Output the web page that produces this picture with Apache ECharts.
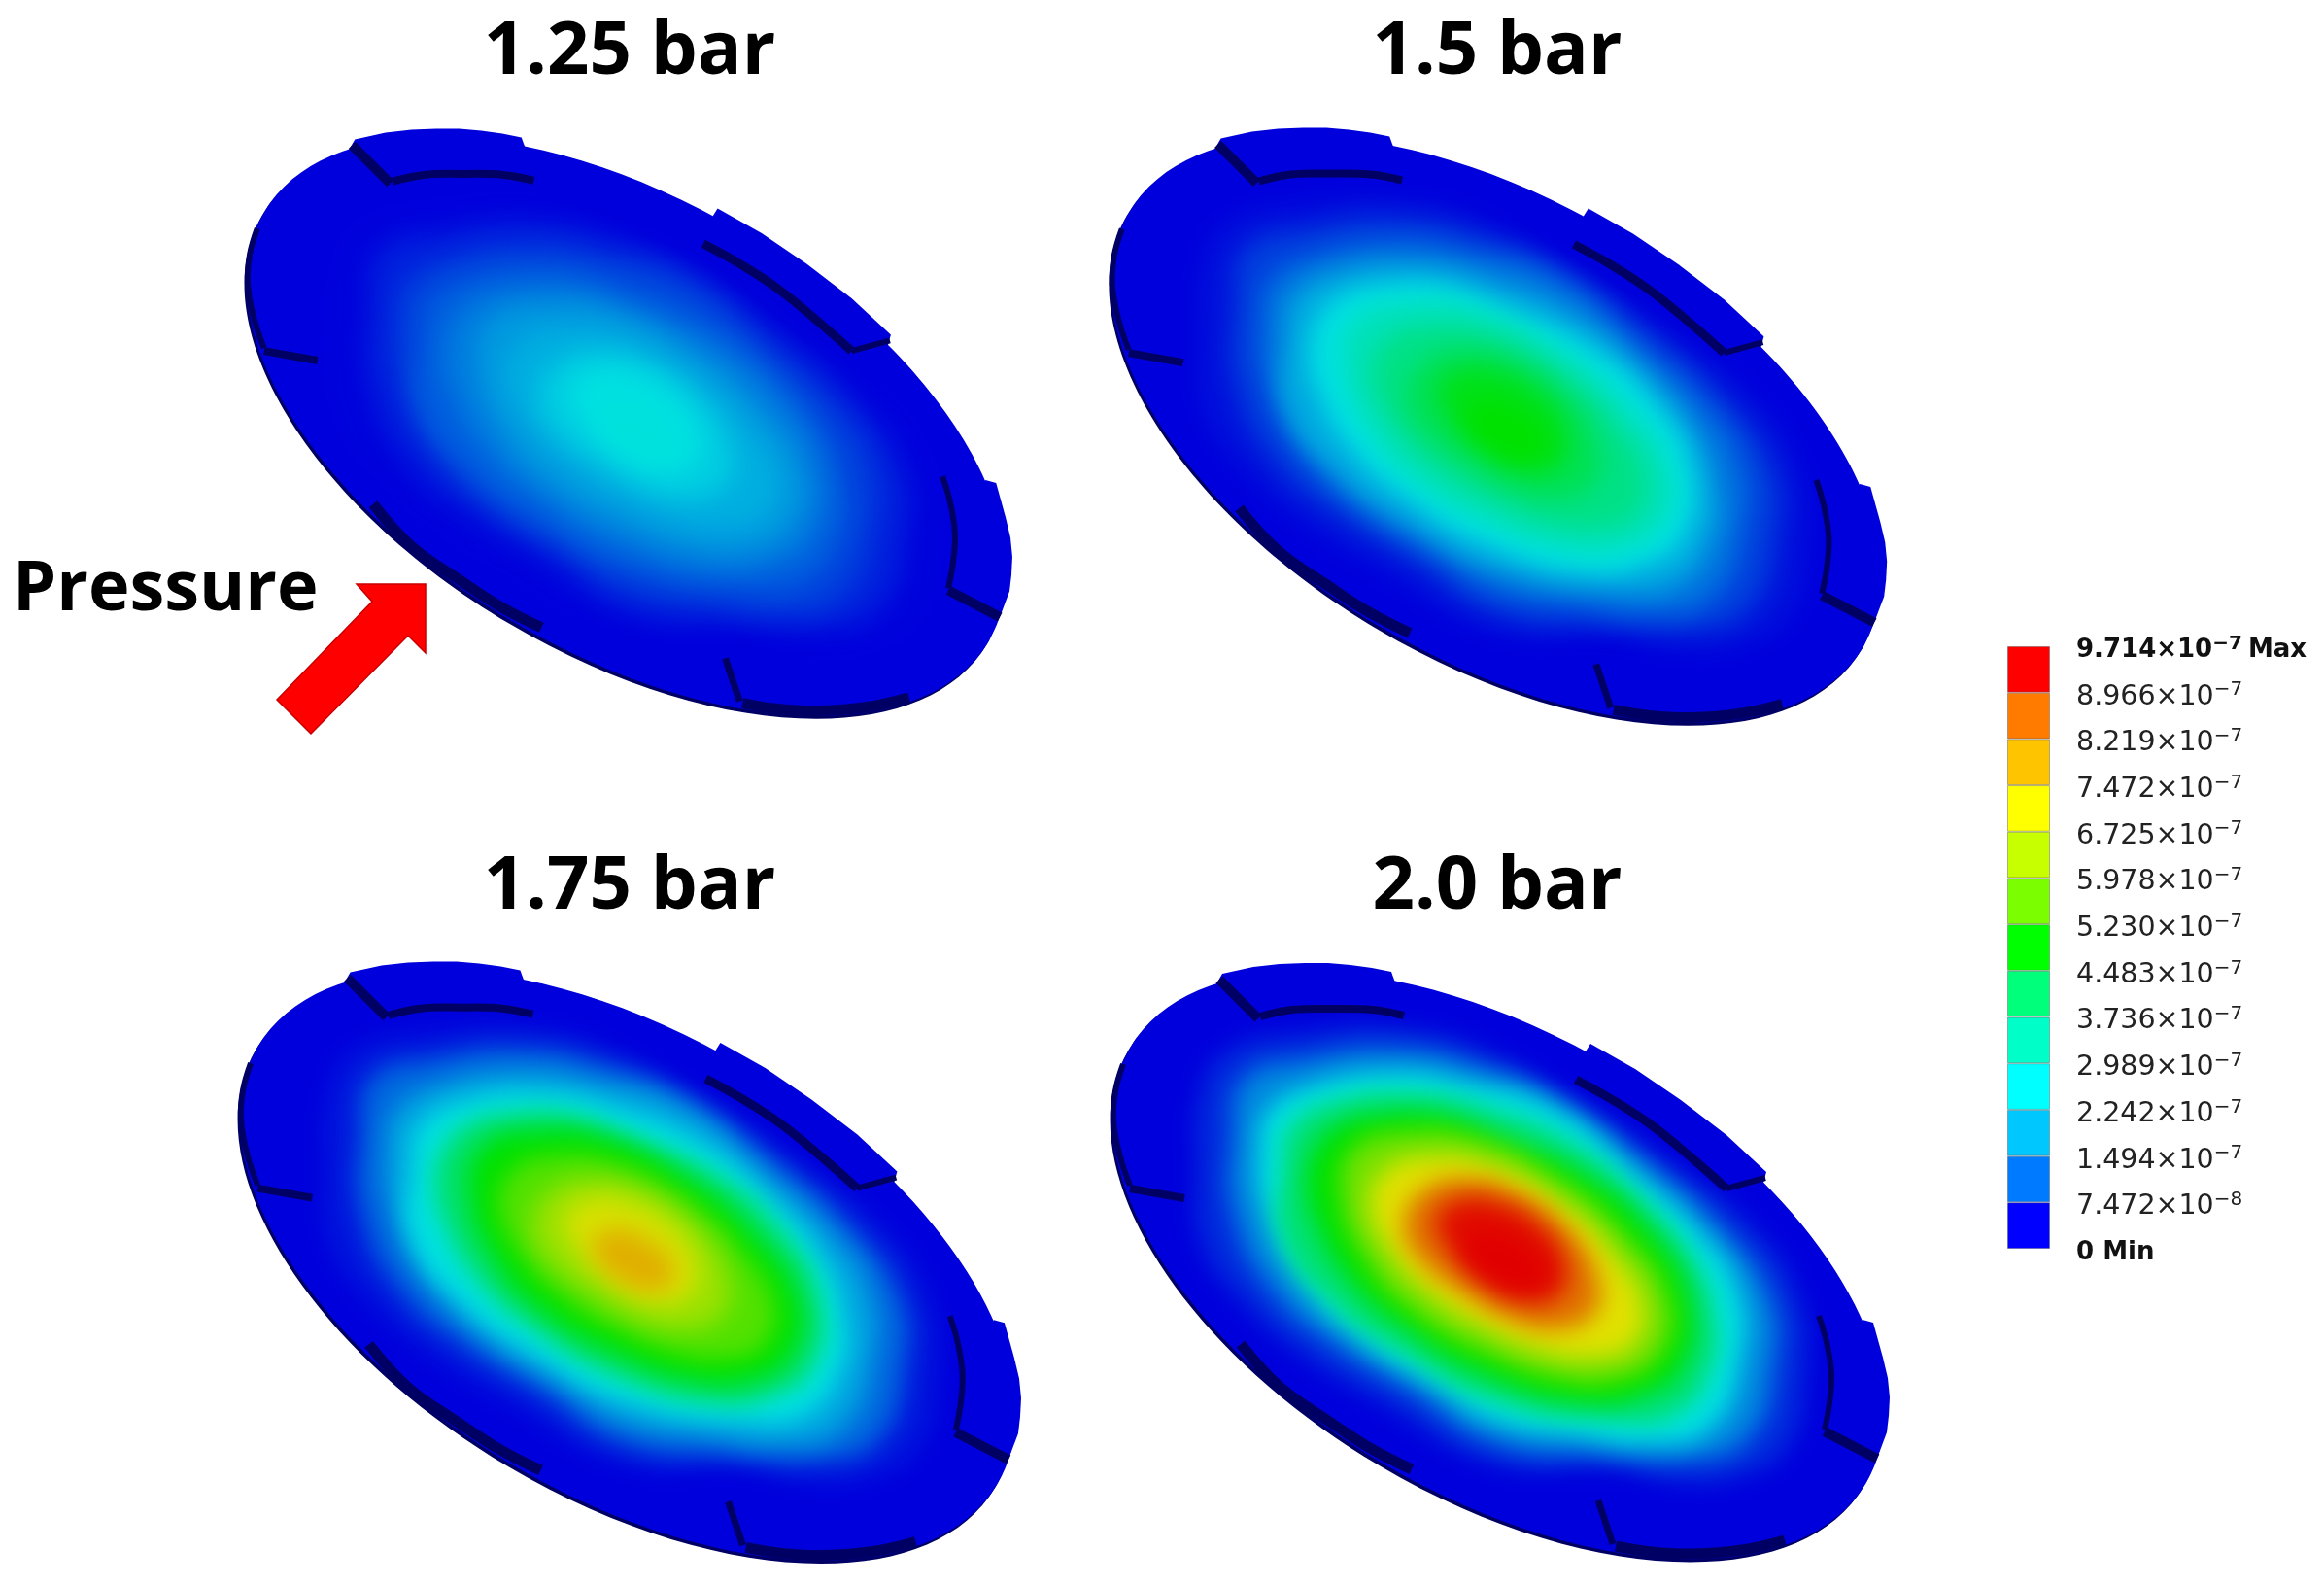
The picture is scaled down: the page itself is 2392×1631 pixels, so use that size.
<!DOCTYPE html>
<html>
<head>
<meta charset="utf-8">
<style>
  html, body { margin: 0; padding: 0; background: #fff; }
  #chart { width: 2392px; height: 1631px; }
</style>
<script src="https://cdn.jsdelivr.net/npm/echarts@6/dist/echarts.min.js"></script>
</head>
<body>
<div id="chart"></div>
<script>
  const panelNames = ['1.25 bar', '1.5 bar', '1.75 bar', '2.0 bar']
  const panelDx = [-897, -2, -896, 0]
  const panelDy = [-863, -860, 0, 0]
  const panelScale = [0.985, 0.998, 1.005, 1]
  const panelTitleX = [648, 1541, 648, 1541]
  const panelTitleY = [11, 11, 870, 870]
  // the low pressure fields sit a little lower right on the disk
  const contourShiftX = [6, 4, 0, 0]
  const contourShiftY = [10, 6, 0, 0]

  // disk rim of the 2.0 bar panel: centre, half axes, tilt in degrees
  // the other panels are moved/scaled from it
  const diskCentre = [1542, 1302]
  const diskHalfAxes = [440, 236]
  const diskTilt = 30.6
  const edgeShift = [-2, 3]
  const pivot = [1544, 1299]

  // raised tabs that stick out of the rim
  const diskTabs = [
    [[1250, 1016], [1258, 1002], [1290, 995], [1317, 992], [1343, 991], [1367, 991], [1390, 993], [1412, 996], [1432, 1000], [1436, 1011], [1400, 1040], [1300, 1040]],
    [[1632, 1082], [1637, 1074], [1683, 1100], [1730, 1132], [1777, 1168], [1818, 1206], [1815, 1217], [1750, 1190], [1650, 1120]],
    [[1917, 1358], [1928, 1361], [1938, 1397], [1943, 1418], [1945, 1438], [1944, 1457], [1942, 1474], [1933, 1498], [1928, 1508], [1900, 1480], [1890, 1400]]
  ]

  const grooves = [
    [[1255, 1008], [1295, 1048]],
    [[1297, 1046], [1330, 1039], [1370, 1038], [1413, 1039], [1445, 1045]],
    [[1622, 1111], [1660, 1132], [1700, 1158], [1743, 1193], [1777, 1223]],
    [[1777, 1223], [1817, 1212]],
    [[1163, 1223], [1219, 1233]],
    [[1277, 1383], [1317, 1427], [1367, 1462], [1410, 1490], [1453, 1512]],
    [[1645, 1544], [1660, 1589]],
    [[1663, 1591], [1700, 1597], [1743, 1599], [1793, 1595], [1837, 1585]],
    [[1872, 1354], [1880, 1381], [1885, 1414], [1883, 1444], [1878, 1471]],
    [[1878, 1473], [1932, 1501]],
    [[1156, 1095], [1148, 1123], [1146, 1153], [1152, 1187], [1163, 1220]]
  ]
  const grooveWidths = [10, 8, 9, 6, 8, 11, 7, 11, 6, 10, 6]

  // contour lines of the 2.0 bar panel, outermost first
  const contourShapes = [
    [[1235, 1130], [1262, 1083], [1335, 1064], [1450, 1060], [1550, 1092], [1615, 1133], [1725, 1205], [1805, 1265], [1852, 1340], [1857, 1417], [1840, 1488], [1790, 1519], [1727, 1524], [1660, 1510], [1540, 1506], [1423, 1443], [1340, 1393], [1280, 1340], [1238, 1280], [1232, 1200]],
    [[1268, 1170], [1280, 1110], [1340, 1090], [1440, 1080], [1530, 1100], [1610, 1135], [1700, 1200], [1770, 1262], [1822, 1335], [1826, 1405], [1800, 1480], [1740, 1502], [1650, 1497], [1540, 1485], [1450, 1430], [1375, 1385], [1310, 1330], [1270, 1250]],
    [[1295, 1180], [1303, 1145], [1340, 1120], [1430, 1103], [1507, 1113], [1600, 1140], [1683, 1207], [1750, 1267], [1790, 1327], [1793, 1398], [1760, 1471], [1693, 1486], [1627, 1478], [1540, 1463], [1473, 1423], [1407, 1383], [1340, 1320], [1300, 1240]],
    [[1320, 1200], [1328, 1160], [1375, 1133], [1455, 1125], [1530, 1140], [1615, 1175], [1690, 1235], [1745, 1300], [1765, 1360], [1762, 1405], [1725, 1455], [1660, 1462], [1540, 1442], [1445, 1393], [1375, 1345], [1320, 1275]],
    [[1345, 1220], [1352, 1185], [1378, 1158], [1420, 1147], [1480, 1147], [1550, 1173], [1633, 1210], [1700, 1267], [1740, 1340], [1730, 1408], [1693, 1434], [1640, 1444], [1540, 1420], [1440, 1363], [1383, 1310], [1353, 1255]],
    [[1380, 1225], [1395, 1180], [1445, 1165], [1515, 1170], [1595, 1207], [1670, 1268], [1718, 1340], [1708, 1395], [1665, 1420], [1610, 1420], [1535, 1395], [1455, 1350], [1405, 1295]],
    [[1410, 1240], [1425, 1205], [1465, 1190], [1530, 1197], [1610, 1240], [1665, 1295], [1692, 1345], [1680, 1385], [1640, 1398], [1595, 1393], [1530, 1367], [1470, 1330], [1430, 1287]],
    [[1445, 1260], [1465, 1225], [1510, 1213], [1560, 1226], [1615, 1265], [1645, 1315], [1640, 1352], [1600, 1368], [1555, 1358], [1500, 1327], [1460, 1295]],
    [[1478, 1255], [1500, 1235], [1540, 1236], [1585, 1260], [1612, 1300], [1605, 1332], [1570, 1340], [1525, 1318], [1490, 1285]],
    [[1508, 1275], [1530, 1265], [1560, 1275], [1588, 1300], [1585, 1322], [1562, 1328], [1530, 1315], [1510, 1295]]
  ]
  // value (x 1e-7) on each contour for each panel
  const contourValues125 = [0.42, 0.7, 1.0, 1.3, 1.6, 1.9, 2.1, 2.4, 2.6, 2.65]
  const contourValues150 = [0.55, 1.0, 1.5, 2.05, 2.6, 3.0, 3.5, 4.0, 4.6, 4.86]
  const contourValues175 = [0.6, 1.4, 2.0, 2.6, 3.8, 4.86, 5.7, 6.4, 7.0, 7.6]
  const contourValues200 = [0.8, 1.7, 2.6, 3.7, 4.86, 6.0, 7.1, 8.2, 9.2, 9.6]
  const contourValues = [contourValues125, contourValues150, contourValues175, contourValues200]

  // colour scale, lit surface colours
  const surfaceValues = [0.37, 2.6, 4.86, 7.1, 9.34]
  const surfaceColors = [[0, 0, 220], [0, 225, 225], [0, 225, 0], [225, 225, 0], [225, 0, 0]]

  const arrowPoints = [[367, 601], [438, 601], [438, 672], [420, 654], [320, 755], [285, 720], [383, 619]]

  // colour bar
  const legendEdges = [0, 0.7472, 1.494, 2.242, 2.989, 3.736, 4.483, 5.23, 5.978, 6.725, 7.472, 8.219, 8.966, 9.714]
  const legendMantissa = ['0', '7.472', '1.494', '2.242', '2.989', '3.736', '4.483', '5.230', '5.978', '6.725', '7.472', '8.219', '8.966', '9.714']
  const legendExponent = ['', '−8', '−7', '−7', '−7', '−7', '−7', '−7', '−7', '−7', '−7', '−7', '−7', '−7']
  const legendColors = ['#0000ff', '#007bff', '#00c8ff', '#00ffff', '#00ffc8', '#00ff7b', '#00ff00', '#7bff00', '#c8ff00', '#ffff00', '#ffc400', '#ff7b00', '#ff0000']

  const OFFSCREEN = 4000
  const BLUR = 24
  const DARK = '#000064'
  const DISK_BLUE = 'rgb(0,0,220)'

  function surfaceColor(v) {
    if (v <= surfaceValues[0]) return DISK_BLUE
    for (var i = 1; i < surfaceValues.length; i++) {
      if (v <= surfaceValues[i]) {
        const t = (v - surfaceValues[i - 1]) / (surfaceValues[i] - surfaceValues[i - 1])
        const a = surfaceColors[i - 1], b = surfaceColors[i]
        return 'rgb(' + Math.round(a[0] + (b[0] - a[0]) * t) + ',' + Math.round(a[1] + (b[1] - a[1]) * t) + ',' + Math.round(a[2] + (b[2] - a[2]) * t) + ')'
      }
    }
    return 'rgb(225,0,0)'
  }

  function placePoint(p, pt, shift) {
    const s = panelScale[p]
    const sx = shift ? shift[0] : 0, sy = shift ? shift[1] : 0
    return [pivot[0] + (pt[0] + sx - pivot[0]) * s + panelDx[p], pivot[1] + (pt[1] + sy - pivot[1]) * s + panelDy[p]]
  }

  function pixels(api, p, pts, shift) {
    return pts.map(function (pt) { return api.coord(placePoint(p, pt, shift)) })
  }

  function diskEllipse(api, p, shift, fill) {
    const c = api.coord(placePoint(p, diskCentre, shift))
    const r = api.size([diskHalfAxes[0] * panelScale[p], diskHalfAxes[1] * panelScale[p]])
    return {
      type: 'ellipse',
      shape: { cx: c[0], cy: c[1], rx: r[0], ry: r[1] },
      originX: c[0],
      originY: c[1],
      rotation: -diskTilt * Math.PI / 180,
      style: { fill: fill }
    }
  }

  const panelIndex = panelNames.map(function (n, i) { return [i] })

  function customSeries(data, renderItem) {
    return { type: 'custom', xAxisIndex: 0, yAxisIndex: 0, silent: true, clip: false, data: data, renderItem: renderItem }
  }

  const series = []

  // under side of the disk
  series.push(customSeries(panelIndex, function (params, api) {
    return diskEllipse(api, api.value(0), edgeShift, DARK)
  }))
  // top of the disk
  series.push(customSeries(panelIndex, function (params, api) {
    return diskEllipse(api, api.value(0), null, DISK_BLUE)
  }))
  const tabData = []
  panelNames.forEach(function (n, p) {
    diskTabs.forEach(function (t, k) { tabData.push([p, k]) })
  })
  series.push(customSeries(tabData, function (params, api) {
    return { type: 'polygon', shape: { points: pixels(api, api.value(0), diskTabs[api.value(1)]) }, style: { fill: DISK_BLUE } }
  }))

  // contour fills: the polygon itself sits off the canvas, only its blurred shadow lands on the disk
  const contourData = []
  panelNames.forEach(function (n, p) {
    contourShapes.forEach(function (c, k) { contourData.push([p, k, contourValues[p][k]]) })
  })
  series.push(customSeries(contourData, function (params, api) {
    const p = api.value(0), k = api.value(1)
    const pts = pixels(api, p, contourShapes[k], [contourShiftX[p], contourShiftY[p]]).map(function (q) { return [q[0] - OFFSCREEN, q[1]] })
    const color = surfaceColor(api.value(2))
    return {
      type: 'polygon',
      shape: { points: pts, smooth: 0.5 },
      style: { fill: color, shadowColor: color, shadowBlur: BLUR, shadowOffsetX: OFFSCREEN }
    }
  }))

  // slots
  const grooveData = []
  panelNames.forEach(function (n, p) {
    grooves.forEach(function (g, k) { grooveData.push([p, k]) })
  })
  series.push(customSeries(grooveData, function (params, api) {
    return {
      type: 'polyline',
      shape: { points: pixels(api, api.value(0), grooves[api.value(1)]), smooth: 0.4 },
      style: { fill: 'none', stroke: DARK, lineWidth: grooveWidths[api.value(1)] }
    }
  }))

  // pressure arrow
  series.push(customSeries([[0]], function (params, api) {
    return {
      type: 'polygon',
      shape: { points: arrowPoints.map(function (pt) { return api.coord(pt) }) },
      style: { fill: '#ff0000', stroke: '#c80000', lineWidth: 1.5 }
    }
  }))

  // colour bar, stacked bands on the real value scale
  legendColors.forEach(function (color, i) {
    series.push({
      type: 'bar',
      xAxisIndex: 1,
      yAxisIndex: 1,
      stack: 'scale',
      barWidth: '100%',
      silent: true,
      data: [legendEdges[i + 1] - legendEdges[i]],
      itemStyle: { color: color, borderColor: 'rgba(90,90,90,0.45)', borderWidth: 1 }
    })
  })

  const titles = panelNames.map(function (n, i) {
    return {
      text: n,
      left: panelTitleX[i] - 5,
      top: panelTitleY[i],
      textAlign: 'center',
      textStyle: { fontFamily: '"Open Sans"', fontWeight: 'bold', fontSize: 76, color: '#000' }
    }
  })
  titles.push({
    text: 'Pressure',
    left: 8,
    top: 566,
    textStyle: { fontFamily: '"Open Sans"', fontWeight: 'bold', fontSize: 72, color: '#000' }
  })

  const labelFont = 'DejaVu Sans'
  const option = {
    animation: false,
    backgroundColor: '#fff',
    title: titles,
    grid: [
      { left: 0, top: 0, width: 2392, height: 1631 },
      { left: 2066, top: 665, width: 44, height: 620 }
    ],
    xAxis: [
      { type: 'value', min: 0, max: 2392, show: false },
      { type: 'category', gridIndex: 1, data: ['scale'], show: false }
    ],
    yAxis: [
      { type: 'value', min: 0, max: 1631, inverse: true, show: false },
      {
        type: 'value',
        gridIndex: 1,
        position: 'right',
        min: 0,
        max: 0.7472 * 13,
        interval: 0.7472,
        axisLine: { show: false },
        axisTick: { show: false },
        splitLine: { show: false },
        axisLabel: {
          margin: 27,
          padding: [9, 0, 0, 0],
          formatter: function (v) {
            const i = Math.round(v / 0.7472)
            if (i === 0) return '{b|0 Min}'
            if (i === 13) return '{b|' + legendMantissa[i] + '×10}{sb|' + legendExponent[i] + '}{m|Max}'
            return '{n|' + legendMantissa[i] + '×10}{s|' + legendExponent[i] + '}'
          },
          rich: {
            n: { fontFamily: labelFont, fontSize: 28.5, color: '#222', lineHeight: 34 },
            b: { fontFamily: labelFont, fontSize: 26, fontWeight: 'bold', color: '#111', lineHeight: 34 },
            m: { fontFamily: labelFont, fontSize: 26, fontWeight: 'bold', color: '#111', lineHeight: 34, padding: [0, 0, 0, 6] },
            s: { fontFamily: labelFont, fontSize: 20, color: '#222', lineHeight: 34, verticalAlign: 'top' },
            sb: { fontFamily: labelFont, fontSize: 20, fontWeight: 'bold', color: '#111', lineHeight: 34, verticalAlign: 'top' }
          }
        }
      }
    ],
    series: series
  }

  const chart = echarts.init(document.getElementById('chart'))
  chart.setOption(option)
</script>
</body>
</html>
